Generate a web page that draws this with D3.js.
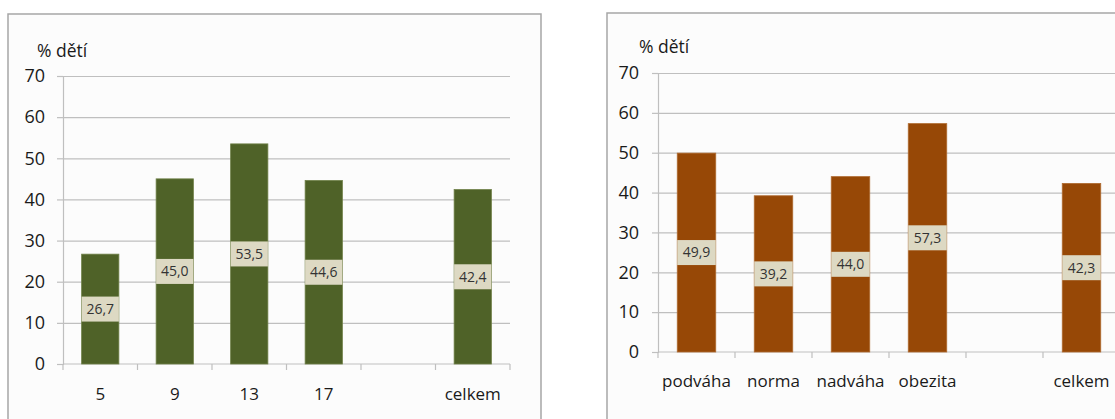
<!DOCTYPE html>
<html><head><meta charset="utf-8">
<script src="https://cdn.jsdelivr.net/npm/d3@7"></script>
<style>
html,body{margin:0;padding:0;background:#fff;}
svg{display:block;font-family:"Open Sans",sans-serif;}
</style></head>
<body>
<svg id="c" width="1115" height="419"></svg>
<script>
const ageCategories = ["5", "9", "13", "17", " ", "celkem"];
const ageValues = [26.7, 45.0, 53.5, 44.6, null, 42.4];
const weightCategories = ["podváha", "norma", "nadváha", "obezita", " ", "celkem"];
const weightValues = [49.9, 39.2, 44.0, 57.3, null, 42.3];
const yTicks = [0, 10, 20, 30, 40, 50, 60, 70];
const yLabel = "% dětí";

const svg = d3.select("#c");
const fmt = v => v.toFixed(1).replace(".", ",");

function panel(opt) {
  const g = svg.append("g");
  g.append("rect").attr("x", opt.box[0]).attr("y", opt.box[1])
    .attr("width", opt.box[2]).attr("height", opt.box[3])
    .attr("fill", "#fcfcfc").attr("stroke", "#a6a6a6").attr("stroke-width", 1.5);

  const x = d3.scaleBand().domain(opt.cats).range([opt.x0, opt.x1]).padding(0);
  const y = d3.scaleLinear().domain([0, 70]).range([opt.yb, opt.yt]);

  g.append("g").attr("transform", `translate(${opt.x0},0)`)
    .call(d3.axisLeft(y).tickValues(yTicks.slice(1)).tickSize(-(opt.gx1 - opt.x0)).tickFormat(""))
    .call(s => s.select(".domain").remove())
    .call(s => s.selectAll("line").attr("stroke", "#bfbfbf").attr("stroke-width", 1.2));

  g.append("g").attr("transform", `translate(${opt.x0},0)`)
    .call(d3.axisLeft(y).tickValues(yTicks).tickSize(6).tickPadding(opt.tp))
    .call(s => s.select(".domain").attr("stroke", "#bfbfbf").attr("stroke-width", 1.2))
    .call(s => s.selectAll("line").attr("stroke", "#bfbfbf").attr("stroke-width", 1.2))
    .call(s => s.selectAll("text").attr("font-size", 18).attr("fill", "#1a1a1a")
      .attr("font-family", "Open Sans"));

  const xa = g.append("g");
  xa.append("line").attr("x1", opt.x0).attr("x2", opt.gx1).attr("y1", y(0)).attr("y2", y(0))
    .attr("stroke", "#bfbfbf").attr("stroke-width", 1.2);
  const edges = opt.cats.map(c => x(c)).concat([x(opt.cats[opt.cats.length - 1]) + x.bandwidth()]);
  xa.selectAll("line.t").data(edges).join("line").attr("class", "t")
    .attr("x1", d => d).attr("x2", d => d).attr("y1", y(0)).attr("y2", y(0) + 6)
    .attr("stroke", "#bfbfbf").attr("stroke-width", 1.2);
  g.append("g").attr("transform", `translate(0,${y(0)})`)
    .call(d3.axisBottom(x).tickSize(0).tickPadding(opt.xp))
    .call(s => s.select(".domain").remove())
    .call(s => s.selectAll("text").attr("font-size", 17).attr("fill", "#1a1a1a")
      .attr("font-family", "Open Sans"));

  g.append("text").attr("x", opt.lab[0]).attr("y", opt.lab[1]).text(yLabel)
    .attr("font-size", 17.5).attr("fill", "#1a1a1a");

  const data = opt.cats.map((c, i) => ({c, v: opt.vals[i]})).filter(d => d.v != null);
  const bw = x.bandwidth() * opt.bf;
  g.selectAll("rect.bar").data(data).join("rect").attr("class", "bar")
    .attr("x", d => x(d.c) + (x.bandwidth() - bw) / 2).attr("width", bw)
    .attr("y", d => y(d.v)).attr("height", d => y(0) - y(d.v))
    .attr("fill", opt.color).attr("stroke", opt.edge).attr("stroke-width", 0.8);

  const bh = 25;
  const lg = g.selectAll("g.lab").data(data).join("g").attr("class", "lab")
    .attr("transform", d => `translate(${x(d.c) + x.bandwidth() / 2},${y(d.v / 2)})`);
  lg.append("rect").attr("x", -bw / 2).attr("y", -bh / 2).attr("width", bw).attr("height", bh)
    .attr("fill", "#ddd9c3");
  lg.append("text").attr("text-anchor", "middle").attr("dy", "0.35em")
    .attr("font-size", 14).attr("fill", "#333").text(d => fmt(d.v));
}

panel({
  box: [8, 14, 533, 420], cats: ageCategories, vals: ageValues,
  x0: 63, x1: 510, gx1: 510, yb: 364, yt: 76, tp: 12, xp: 24,
  lab: [37, 57], color: "#4f6228", edge: "#6f8048", bf: 0.5
});
panel({
  box: [607, 13, 530, 420], cats: weightCategories, vals: weightValues,
  x0: 658, x1: 1120, gx1: 1120, yb: 352, yt: 73, tp: 13, xp: 23,
  lab: [639, 53], color: "#974806", edge: "#b06a30", bf: 0.5
});
</script>
</body></html>
